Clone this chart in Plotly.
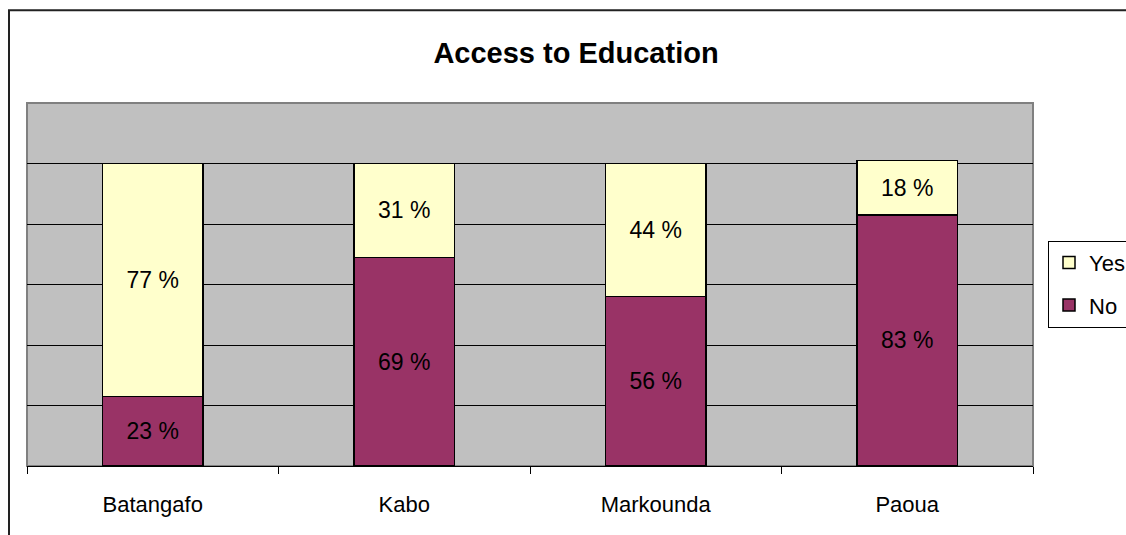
import plotly.graph_objects as go

# Access to education by location (share of respondents, %)
categories = ["Batangafo", "Kabo", "Markounda", "Paoua"]
no_values = [23, 69, 56, 83]
yes_values = [77, 31, 44, 18]

FONT = "Liberation Sans, Arial, sans-serif"

fig = go.Figure()
fig.add_trace(go.Bar(
    name="No", x=categories, y=no_values, legendgroup="no", legendrank=2,
    marker=dict(color="#993366", line=dict(color="#000000", width=1.5)),
    text=[f"{v} %" for v in no_values], textposition="inside",
    insidetextanchor="middle", textangle=0,
    textfont=dict(family=FONT, size=23, color="#000000"),
    width=0.4,
))
fig.add_trace(go.Bar(
    name="Yes", x=categories, y=yes_values, legendgroup="yes", legendrank=1,
    marker=dict(color="#FFFFCC", line=dict(color="#000000", width=1.5)),
    text=[f"{v} %" for v in yes_values], textposition="inside",
    insidetextanchor="middle", textangle=0,
    textfont=dict(family=FONT, size=23, color="#000000"),
    width=0.4,
))

fig.update_layout(
    width=1126, height=535,
    barmode="stack",
    paper_bgcolor="#FFFFFF",
    plot_bgcolor="#C0C0C0",
    margin=dict(l=27, r=93, t=103, b=69, autoexpand=False),
    font=dict(family=FONT, size=22, color="#000000"),
    title=dict(
        text="<b>Access to Education</b>",
        font=dict(family=FONT, size=29, color="#000000"),
        xref="container", yref="container",
        x=576 / 1126, xanchor="center",
        y=1 - 53 / 535, yanchor="middle",
    ),
    showlegend=True,
    legend=dict(
        x=(1048 - 27) / 1006, xanchor="left",
        y=(466 - 241) / 362.5, yanchor="top",
        traceorder="grouped", tracegroupgap=11,
        bgcolor="#FFFFFF", bordercolor="#000000", borderwidth=1,
        font=dict(family=FONT, size=22, color="#000000"),
        itemwidth=30,
    ),
    xaxis=dict(
        showline=True, linecolor="#000000", linewidth=1,
        ticks="outside", tickson="boundaries", ticklen=7,
        tickcolor="#000000", tickwidth=1,
        tickfont=dict(family=FONT, size=22, color="#000000"),
        ticklabelstandoff=19,
        showgrid=False,
    ),
    yaxis=dict(
        range=[0, 120], dtick=20,
        showgrid=True, gridcolor="#000000", gridwidth=1,
        showticklabels=False, zeroline=False, showline=False,
    ),
    shapes=[
        # gray frame around the plotting area
        dict(type="rect", xref="paper", yref="paper",
             x0=0, x1=1, y0=0, y1=1,
             line=dict(color="#808080", width=2), layer="below"),
        # outer chart border
        dict(type="rect", xref="paper", yref="paper",
             x0=-18 / 1006, x1=1.2, y0=-0.3, y1=(466 - 11) / 362.5,
             line=dict(color="#222222", width=2), fillcolor="rgba(0,0,0,0)"),
    ],
)

fig.write_html("out.html")
